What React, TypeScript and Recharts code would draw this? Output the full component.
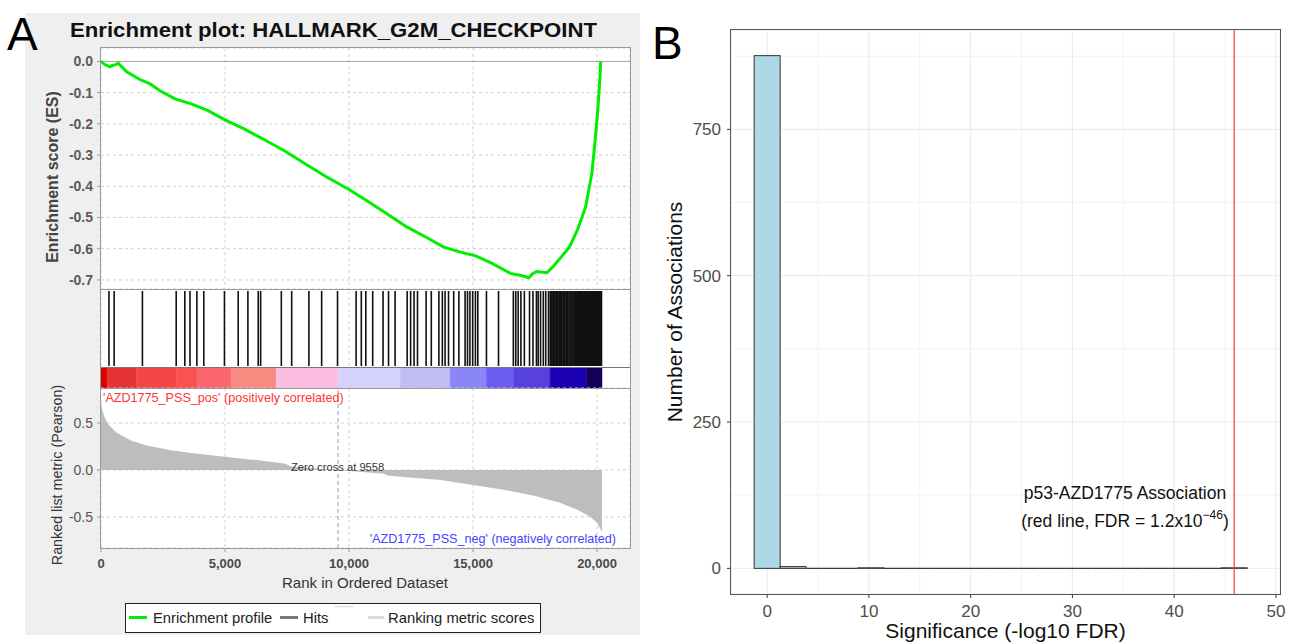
import React from 'react';
import {
  LineChart,
  Line,
  AreaChart,
  Area,
  BarChart,
  ComposedChart,
  Bar,
  Scatter,
  XAxis,
  YAxis,
  CartesianGrid,
  ReferenceLine,
} from 'recharts';

const FONT = '"Liberation Sans", Arial, Helvetica, sans-serif';

// ---------- Panel A: GSEA enrichment plot ----------
const rankMax = 21330;
const rankTicks = [0, 5000, 10000, 15000, 20000];
const esTicks = [0, -0.1, -0.2, -0.3, -0.4, -0.5, -0.6, -0.7];
const metricTicks = [0.5, 0, -0.5];
const zeroCross = 9558;

const esRank = [
  0, 150, 363, 450, 565, 700, 1035, 1570, 1980, 2380, 2980, 3640, 4300, 5000, 5770,
  6590, 7410, 8230, 9050, 10000, 10690, 11510, 12330, 13150, 13800, 14460, 15110,
  15770, 16510, 16840, 17050, 17250, 17400, 17570, 17980, 18230, 18560, 18890, 19210,
  19540, 19790, 19900, 20030, 20120, 20150,
];
const esScore = [
  0, -0.01, -0.017, -0.013, -0.011, -0.006, -0.033, -0.058, -0.072, -0.094, -0.12,
  -0.136, -0.157, -0.187, -0.216, -0.251, -0.287, -0.328, -0.368, -0.41, -0.445,
  -0.487, -0.53, -0.565, -0.594, -0.61, -0.623, -0.647, -0.679, -0.684, -0.688,
  -0.693, -0.68, -0.673, -0.677, -0.657, -0.626, -0.594, -0.54, -0.466, -0.36,
  -0.274, -0.157, -0.05, 0,
];

const hitRanks = [
  321, 530, 1670, 3032, 3380, 3588, 3866, 4144, 4977, 5533, 5923, 6340, 6437, 7271,
  7688, 8383, 8897, 9537, 10287, 10496, 10677, 10955, 11372, 11594, 11858, 12345,
  12484, 12623, 12762, 13109, 13318, 13624, 13763, 13874, 14013, 14221, 14430, 14680,
  14777, 14874, 14986, 15097, 15194, 15542, 16028, 16626, 16723, 16820, 16931, 17070,
  17279, 17418, 17557, 17627, 17724, 17835, 17932, 18044, 18113, 18150, 18190, 18240,
  18270, 18310, 18360, 18400, 18430, 18480, 18520, 18560, 18590, 18640, 18680, 18710,
  18760, 18800, 18830, 18870, 18920, 18950, 18990, 19030, 19070, 19110, 19140, 19180,
  19220, 19260, 19290, 19330, 19370, 19410, 19440, 19480, 19510, 19550, 19580, 19620,
  19650, 19690, 19720, 19760, 19790, 19830, 19860, 19890, 19930, 19960, 19990, 20030,
  20060, 20090, 20120, 20150, 20180,
];

const bandEdges = [0, 250, 1430, 3030, 3870, 5260, 7060, 9565, 12070, 14080, 15540, 16650, 18110, 19570, 20200];
const bandColors = [
  '#d40000', '#e63434', '#f54646', '#fa5252', '#fb6670', '#f98a82', '#fbbde0',
  '#d4d2fb', '#c2bcf5', '#8a86f8', '#6c5cf0', '#5840dc', '#1c00b4', '#14005a',
];

const metricRank = [
  0, 30, 115, 280, 605, 1180, 1830, 2815, 3800, 4990, 6090, 7400, 7700, 9558, 11400,
  11550, 12310, 13620, 14930, 16240, 17550, 18530, 19190, 19680, 20000, 20140, 20200,
];
const metricValue = [
  0.72, 0.66, 0.58, 0.49, 0.4, 0.315, 0.26, 0.21, 0.175, 0.14, 0.11, 0.07, 0.035, 0,
  -0.04, -0.06, -0.077, -0.105, -0.157, -0.21, -0.28, -0.35, -0.42, -0.49, -0.56,
  -0.63, -0.66,
];

// ---------- Panel B: histogram of association significance ----------
const binCenters = [
  0, 2.55, 5.1, 7.65, 10.2, 12.75, 15.3, 17.85, 20.4, 22.95, 25.5, 28.05, 30.6, 33.15,
  35.7, 38.25, 40.8, 43.35, 45.9,
];
const binCounts = [876, 3, 0, 0, 1, 0, 0, 0, 0, 0, 0, 0, 0, 0, 0, 0, 0, 0, 1];
const sigTicks = [0, 10, 20, 30, 40, 50];
const sigMinor = [5, 15, 25, 35, 45];
const countTicks = [0, 250, 500, 750];
const countMinor = [125, 375, 625, 875];
const p53Significance = 45.9;

const esData = esRank.map((r, i) => ({ rank: r, es: esScore[i] }));
const metricData = metricRank.map((r, i) => ({ rank: r, metric: metricValue[i] }));
const hitData = hitRanks.map((r) => ({ rank: r, top: 1 }));
const bandRow: Record<string, any> = { name: 'bar' };
bandColors.forEach((_, i) => {
  bandRow['b' + i] = bandEdges[i + 1] - bandEdges[i];
});
const histData = binCenters.map((b, i) => ({ bin: b, count: binCounts[i] }));

const fmt1 = (v: number) => (Math.abs(v) < 1e-9 ? '0.0' : v.toFixed(1));

const HIT_LEN = 75;
const HitLine = (p: any) => {
  if (p.cx == null || p.cy == null) return null;
  return <line x1={p.cx} x2={p.cx} y1={p.cy} y2={p.cy + HIT_LEN} stroke="#111" strokeWidth={1.6} />;
};

const HistBar = (p: any) => {
  const { x, y, width, height } = p;
  if (x == null || y == null) return null;
  if (!height || Math.abs(height) < 0.3) {
    return <line x1={x} x2={x + width} y1={y} y2={y} stroke="#333" strokeWidth={1.2} />;
  }
  return <rect x={x} y={y} width={width} height={height} fill="#add8e6" stroke="#333" strokeWidth={1} />;
};

const abs = (left: number, top: number): React.CSSProperties => ({ position: 'absolute', left, top });

export default function App() {
  const gridA = { stroke: '#d0d0d0', strokeDasharray: '3 3' };
  return (
    <div style={{ position: 'absolute', left: 0, top: 0, width: 1296, height: 644, background: '#fff', overflow: 'hidden', fontFamily: FONT }}>
      {/* panel A backgrounds */}
      <div style={{ ...abs(25, 13), width: 615, height: 622, background: '#efefef' }} />
      <div style={{ ...abs(101, 48), width: 529, height: 500, background: '#fff' }} />

      {/* enrichment score */}
      <div style={abs(0, 0)}>
        <LineChart width={640} height={300} data={esData} margin={{ top: 48, right: 10, bottom: 11, left: 41 }}>
          <CartesianGrid {...gridA} />
          <XAxis type="number" dataKey="rank" domain={[0, rankMax]} ticks={rankTicks} hide />
          <YAxis
            type="number"
            domain={[-0.729, 0.043]}
            ticks={esTicks}
            tickFormatter={fmt1}
            width={60}
            axisLine={false}
            tickLine={{ stroke: '#999' }}
            tickSize={4}
            tickMargin={4}
            tick={{ fontSize: 14, fontWeight: 'bold', fill: '#5a5a5a', fontFamily: FONT }}
          />
          <ReferenceLine y={0} stroke="#a8a8a8" />
          <Line type="linear" dataKey="es" stroke="#00ee00" strokeWidth={3} dot={false} isAnimationActive={false} />
        </LineChart>
      </div>

      {/* hits */}
      <div style={abs(0, 289)}>
        <ComposedChart width={640} height={78} data={hitData} margin={{ top: 2, right: 10, bottom: 1, left: 101 }}>
          <CartesianGrid {...gridA} horizontal={false} />
          <XAxis type="number" dataKey="rank" domain={[0, rankMax]} ticks={rankTicks} hide />
          <YAxis type="number" dataKey="top" domain={[0, 1]} hide />
          <Scatter dataKey="top" shape={HitLine} isAnimationActive={false} />
        </ComposedChart>
      </div>

      {/* colour bar */}
      <div style={abs(0, 368)}>
        <BarChart layout="vertical" width={640} height={20} data={[bandRow]} margin={{ top: 0, right: 10, bottom: 0, left: 101 }} barCategoryGap={0} barGap={0}>
          <XAxis type="number" domain={[0, rankMax]} hide />
          <YAxis type="category" dataKey="name" hide />
          {bandColors.map((c, i) => (
            <Bar key={i} dataKey={'b' + i} stackId="c" fill={c} stroke={c} strokeWidth={0.5} isAnimationActive={false} />
          ))}
        </BarChart>
      </div>

      {/* ranked list metric */}
      <div style={abs(0, 380)}>
        <AreaChart width={640} height={200} data={metricData} margin={{ top: 8, right: 10, bottom: 2, left: 41 }}>
          <CartesianGrid {...gridA} />
          <XAxis
            type="number"
            dataKey="rank"
            domain={[0, rankMax]}
            ticks={rankTicks}
            tickFormatter={(v: number) => v.toLocaleString('en-US')}
            height={30}
            axisLine={false}
            tickLine={{ stroke: '#999' }}
            tickSize={4}
            tickMargin={7}
            tick={{ fontSize: 13, fontWeight: 'bold', fill: '#4a4a4a', fontFamily: FONT }}
          />
          <YAxis
            type="number"
            domain={[-0.83, 0.872]}
            ticks={metricTicks}
            tickFormatter={fmt1}
            width={60}
            axisLine={false}
            tickLine={{ stroke: '#999' }}
            tickSize={4}
            tickMargin={4}
            tick={{ fontSize: 14, fill: '#555', fontFamily: FONT }}
          />
          <Area type="linear" dataKey="metric" baseValue={0} stroke="none" fill="#bdbdbd" fillOpacity={1} isAnimationActive={false} />
          <ReferenceLine x={zeroCross} stroke="#a0a0a0" strokeDasharray="4 3" />
        </AreaChart>
      </div>

      {/* panel B */}
      <div style={abs(640, 0)}>
        <ComposedChart width={656} height={644} data={histData} margin={{ top: 30, right: 16, bottom: 20, left: 31 }} barCategoryGap={0} barGap={0}>
          <CartesianGrid stroke="#f3f3f3" verticalValues={sigMinor} horizontalValues={countMinor} />
          <CartesianGrid stroke="#e9e9e9" />
          <XAxis
            type="number"
            dataKey="bin"
            domain={[-3.55, 50.4]}
            ticks={sigTicks}
            height={30}
            axisLine={false}
            tickLine={{ stroke: '#333' }}
            tickSize={4}
            tickMargin={7}
            tick={{ fontSize: 17, fill: '#4d4d4d', fontFamily: FONT }}
          />
          <YAxis
            type="number"
            domain={[-43.8, 919.8]}
            ticks={countTicks}
            width={60}
            axisLine={false}
            tickLine={{ stroke: '#333' }}
            tickSize={4}
            tickMargin={6}
            tick={{ fontSize: 17, fill: '#4d4d4d', fontFamily: FONT }}
          />
          <Bar dataKey="count" shape={HistBar} isAnimationActive={false} />
          <ReferenceLine x={p53Significance} stroke="#ff3a3a" strokeWidth={1.2} />
        </ComposedChart>
      </div>

      {/* frames, titles, labels */}
      <svg width={1296} height={644} style={{ position: 'absolute', left: 0, top: 0, pointerEvents: 'none' }} fontFamily={FONT}>
        <rect x={100.5} y={47.5} width={530} height={501} fill="none" stroke="#9a9a9a" />
        <line x1={101} x2={630} y1={289.5} y2={289.5} stroke="#9a9a9a" />
        <line x1={101} x2={630} y1={367.5} y2={367.5} stroke="#777" />
        <line x1={101} x2={630} y1={388.5} y2={388.5} stroke="#9a9a9a" />

        <text x={7} y={50} fontSize={46}>A</text>
        <text x={70} y={37} fontSize={21} fontWeight="bold" fill="#111" textLength={527} lengthAdjust="spacingAndGlyphs">
          Enrichment plot: HALLMARK_G2M_CHECKPOINT
        </text>
        <text transform="translate(58,177) rotate(-90)" textAnchor="middle" fontSize={16} fontWeight="bold" fill="#444">
          Enrichment score (ES)
        </text>
        <text transform="translate(62,475) rotate(-90)" textAnchor="middle" fontSize={14.3} fill="#333">
          Ranked list metric (Pearson)
        </text>
        <text x={365} y={588} textAnchor="middle" fontSize={15} fill="#333">Rank in Ordered Dataset</text>
        <text x={103} y={401.5} fontSize={12.6} fill="#ff3434">'AZD1775_PSS_pos' (positively correlated)</text>
        <text x={291} y={471} fontSize={11.2} fill="#333">Zero cross at 9558</text>
        <text x={616} y={542.5} textAnchor="end" fontSize={12.6} fill="#4444ff">'AZD1775_PSS_neg' (negatively correlated)</text>

        <rect x={125.5} y={603.5} width={415} height={29} fill="#fff" stroke="#222" />
        <line x1={129} x2={147} y1={617.5} y2={617.5} stroke="#00ee00" strokeWidth={3} />
        <text x={153} y={623} fontSize={14.8} fill="#222">Enrichment profile</text>
        <line x1={280} x2={298} y1={617.5} y2={617.5} stroke="#777" strokeWidth={3} />
        <text x={303} y={623} fontSize={14.8} fill="#222">Hits</text>
        <line x1={335} x2={353} y1={606.5} y2={606.5} stroke="#e6e6e6" strokeWidth={2} />
        <line x1={368} x2={384} y1={617.5} y2={617.5} stroke="#dcdcdc" strokeWidth={3} />
        <text x={388} y={623} fontSize={14.8} fill="#222">Ranking metric scores</text>

        <rect x={730.5} y={29.5} width={550} height={565} fill="none" stroke="#555" />
        <text x={652} y={59} fontSize={46}>B</text>
        <text transform="translate(681.5,312) rotate(-90)" textAnchor="middle" fontSize={21} fill="#111">
          Number of Associations
        </text>
        <text x={1005.5} y={638} textAnchor="middle" fontSize={21} fill="#111">Significance (-log10 FDR)</text>
        <text x={1125} y={499} textAnchor="middle" fontSize={17.5} fill="#111">p53-AZD1775 Association</text>
        <text x={1125} y={527} textAnchor="middle" fontSize={17.5} fill="#111">
          (red line, FDR = 1.2x10
          <tspan fontSize={12} dy={-8}>−46</tspan>
          <tspan dy={8}>)</tspan>
        </text>
      </svg>
    </div>
  );
}
